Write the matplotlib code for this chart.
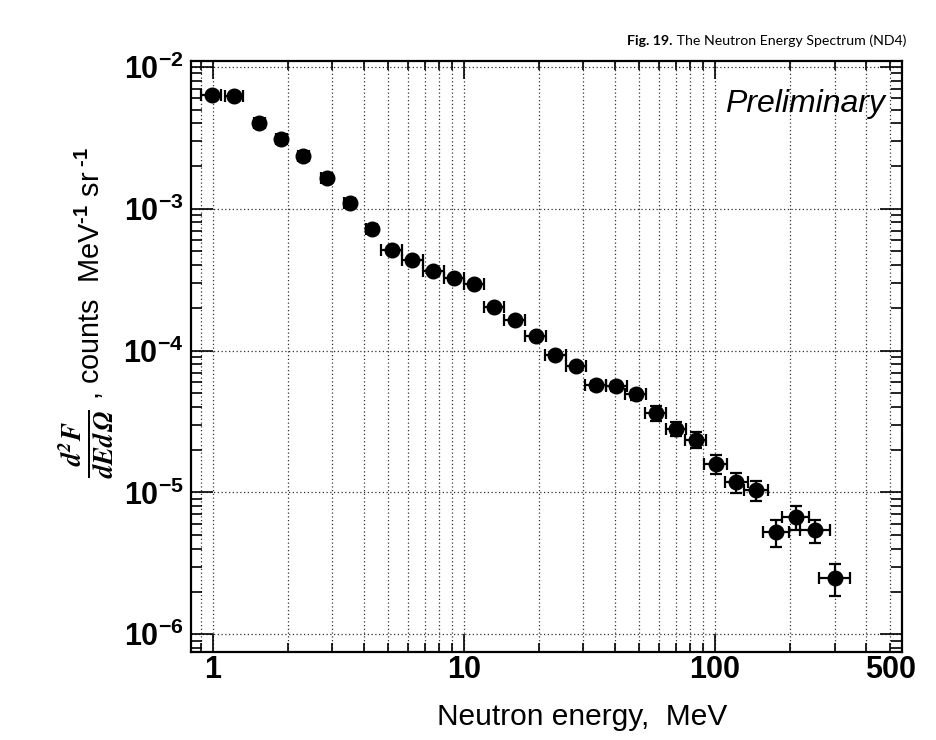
import numpy as np
import matplotlib
matplotlib.use('Agg')
import matplotlib.pyplot as plt
from matplotlib.ticker import FixedLocator, FuncFormatter, LogLocator, NullFormatter

# neutron energy spectrum, ND4
energy = [0.99, 1.22, 1.53, 1.88, 2.30, 2.85, 3.52, 4.30, 5.17, 6.24, 7.56,
          9.15, 11.0, 13.2, 16.0, 19.4, 23.2, 28.0, 33.6, 40.5, 48.5, 58.2,
          70.1, 84.0, 101, 122, 146, 175, 210, 251, 301]
e_lo = [0.90, 1.12, 1.455, 1.79, 2.19, 2.71, 3.35, 4.09, 4.70, 5.67, 6.87,
        8.32, 10.0, 12.0, 14.5, 17.6, 21.1, 25.5, 30.5, 36.8, 44.1, 52.9,
        63.7, 76.4, 90.8, 109.7, 131.3, 155.6, 185, 219, 261]
e_hi = [1.08, 1.325, 1.61, 1.98, 2.42, 3.00, 3.70, 4.52, 5.69, 6.86, 8.32,
        10.07, 12.1, 14.5, 17.6, 21.3, 25.5, 30.8, 37.0, 44.6, 53.4, 64.0,
        77.1, 92.4, 112.3, 135.7, 162.4, 196.9, 238, 287, 347]
flux = [6.34e-3, 6.27e-3, 4.01e-3, 3.10e-3, 2.36e-3, 1.655e-3, 1.092e-3,
        7.16e-4, 5.12e-4, 4.35e-4, 3.66e-4, 3.26e-4, 2.97e-4, 2.02e-4,
        1.65e-4, 1.27e-4, 9.29e-5, 7.74e-5, 5.71e-5, 5.62e-5, 4.91e-5,
        3.64e-5, 2.82e-5, 2.36e-5, 1.59e-5, 1.175e-5, 1.037e-5, 5.27e-6,
        6.72e-6, 5.42e-6, 2.49e-6]
flux_err = [1.3e-4, 1.3e-4, 8e-5, 6e-5, 5e-5, 3.5e-5, 2.5e-5, 1.8e-5, 1.4e-5,
            1.3e-5, 1.2e-5, 1.1e-5, 1.0e-5, 8e-6, 7e-6, 6e-6, 5e-6, 4.5e-6,
            4e-6, 4e-6, 4e-6, 4.3e-6, 3.4e-6, 3.1e-6, 2.5e-6, 1.9e-6, 1.65e-6,
            1.15e-6, 1.3e-6, 1.0e-6, 0.62e-6]

x_major = [1, 10, 100]
x_minor = [0.9, 2, 3, 4, 5, 6, 7, 8, 9, 20, 30, 40, 50, 60, 70, 80, 90,
           200, 300, 400, 500]

plt.rcParams['font.family'] = 'Liberation Sans'
plt.rcParams['font.weight'] = 'bold'
plt.rcParams['mathtext.fontset'] = 'custom'
plt.rcParams['mathtext.rm'] = 'Liberation Sans'
plt.rcParams['mathtext.it'] = 'Liberation Sans:italic'
plt.rcParams['mathtext.bf'] = 'Liberation Sans:bold'

W, H = 936, 740
fig = plt.figure(figsize=(W / 100, H / 100), dpi=100)
ax = fig.add_axes([191 / W, 1 - 652 / H, (902 - 191) / W, (652 - 61) / H])

e = np.array(energy)
xerr = [e - np.array(e_lo), np.array(e_hi) - e]
ax.errorbar(e, flux, xerr=xerr, yerr=flux_err, fmt='o', color='k',
            ms=10.5, elinewidth=1.6, capsize=4, capthick=1.6, zorder=3)

ax.set_xscale('log')
ax.set_yscale('log')
ax.set_xlim(0.82, 557)
ax.set_ylim(7.5e-7, 1.1e-2)

ax.xaxis.set_major_locator(FixedLocator(x_major))
ax.xaxis.set_minor_locator(FixedLocator(x_minor))
ax.xaxis.set_major_formatter(FuncFormatter(lambda v, p: '%d' % v))
ax.xaxis.set_minor_formatter(FuncFormatter(lambda v, p: '500' if abs(v - 500) < 1 else ''))
ax.yaxis.set_major_locator(LogLocator(base=10, numticks=20))
ax.yaxis.set_minor_locator(LogLocator(base=10, subs=np.arange(2, 10), numticks=20))
ax.yaxis.set_major_formatter(FuncFormatter(lambda v, p: r'$\mathbf{10^{%d}}$' % round(np.log10(v))))
ax.yaxis.set_minor_formatter(NullFormatter())

ax.tick_params(which='both', direction='in', top=True, right=True, width=1.2,
               labelsize=22)
ax.tick_params(axis='x', which='major', length=13, pad=2)
ax.tick_params(axis='x', which='minor', length=6.5, pad=2)
ax.tick_params(axis='y', which='major', length=16, pad=5)
ax.tick_params(axis='y', which='minor', length=7.7)

grid_kw = dict(color='0.2', linestyle=(0, (1, 2)), linewidth=0.9)
ax.grid(which='major', axis='both', **grid_kw)
ax.grid(which='minor', axis='x', **grid_kw)
ax.set_axisbelow(True)
for s in ax.spines.values():
    s.set_linewidth(1.6)

# text
fig.text(885 / W, 1 - 112 / H, 'Preliminary', ha='right', va='baseline',
         fontsize=23, style='italic', fontweight='normal')
fig.text(582 / W, 1 - 717 / H, 'Neutron energy,  MeV', ha='center', va='center',
         fontsize=21.5, fontweight='normal')
fig.text(86 / W, 1 - 444 / H, r'$\mathbfit{\frac{d^2F}{dEd\Omega}}$',
         rotation=90, ha='center', va='center', fontsize=27.5, math_fontfamily='stix')
fig.text(100 / W, 1 - 400 / H, r', counts  MeV$^{\text{-1}}$ sr$^{\text{ -1}}$',
         rotation=90, rotation_mode='anchor', ha='left', va='baseline',
         fontsize=20.8, fontweight='normal')

t_rest = fig.text(906 / W, 1 - 45 / H, ' The Neutron Energy Spectrum (ND4)',
                  ha='right', va='baseline', fontsize=10.2, fontweight='normal',
                  family='Lato')
fig.canvas.draw()
bb = t_rest.get_window_extent()
fig.text(bb.x0 / W, 1 - 45 / H, 'Fig. 19.', ha='right', va='baseline',
         fontsize=10.2, fontweight='bold', family='Lato')

fig.savefig('out.png', dpi=100)
